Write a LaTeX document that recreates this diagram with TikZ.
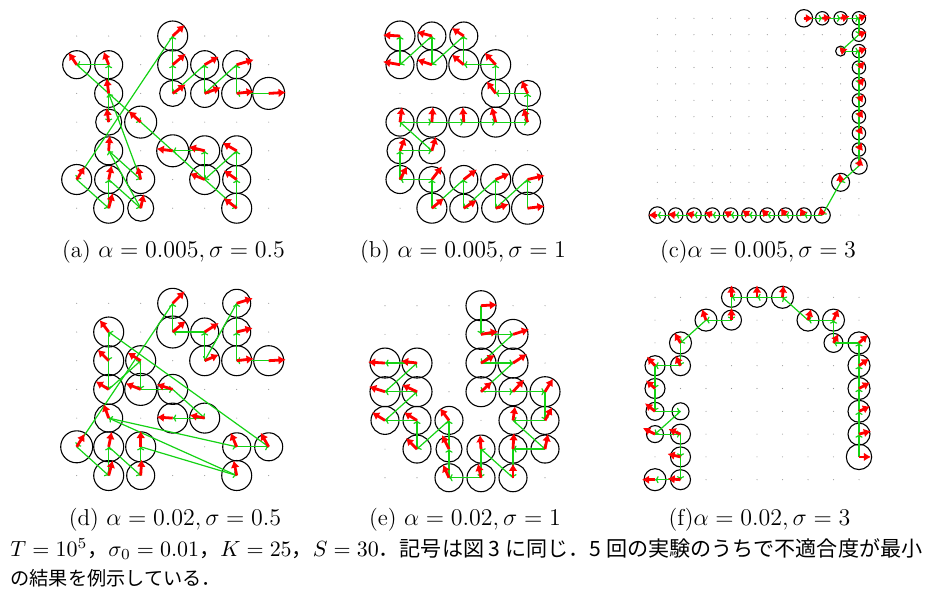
\documentclass[tikz,border=0pt]{standalone}
\usepackage{fontspec}
\newfontfamily\cjk{Noto Sans CJK JP}
\usetikzlibrary{arrows.meta}
\definecolor{grn}{RGB}{20,210,20}
\definecolor{dotc}{RGB}{150,150,150}
\tikzset{
  ring/.style={draw=black,line width=0.55pt},
  link/.style={draw=grn,line width=0.6pt,-{To[length=1.8pt,width=3.6pt]}},
  dirarrow/.style={draw=red,line width=1.4pt,-{Latex[length=3.6pt,width=4.4pt]}},
  capt/.style={inner sep=0pt,font=\fontsize{11.5}{14}\selectfont},
  bodytext/.style={inner sep=0pt,anchor=west,font=\fontsize{9.6}{12}\selectfont},
}
% #1 name, #2 X0, #3 Y0, #4 DX, #5 DY, #6 last col, #7 last row
\newcommand\mkpanel[7]{%
  \foreach \i in {0,...,#6}{\foreach \j in {0,...,#7}{%
    \fill[dotc] ({#2+\i*#4},{#3+\j*#5}) circle[radius=0.55];}}
  \foreach \c/\r/\R/\u/\v in \nodelist{%
    \coordinate (#1-\c-\r) at ({#2+\c*#4},{#3+\r*#5});}
  \foreach \c/\r/\R/\u/\v in \nodelist{%
    \draw[ring] (#1-\c-\r) circle[radius=\R];}
  \foreach \p [count=\k, remember=\p as \q] in \chainlist{%
    \ifnum\k>1 \draw[link] (#1-\q) -- (#1-\p);\fi}
  \foreach \c/\r/\R/\u/\v in \nodelist{%
    \pgfmathtruncatemacro\ok{(abs(\u)+abs(\v))>0 ? 1 : 0}%
    \ifnum\ok=1 \draw[dirarrow] (#1-\c-\r) -- ++(\u,\v);\fi}
}
\begin{document}
\begin{tikzpicture}[x=0.5pt,y=-0.5pt]
\useasboundingbox (0,0) rectangle (926,595);
% ---------- (a)
\def\nodelist{3/0/15/12/-11, 0/1/14/-8/-12, 1/1/14/-5/-13, 3/1/15/13/-11, 4/1/14/14/-8,
 5/1/14/17/-5, 1/2/14/-2/-15, 3/2/13/13/-9, 4/2/14/16/-6, 5/2/15/17/-2, 6/2/16/17/-1,
 1/3/13/-2/-14, 2/3/16/-12/-11, 1/4/14/1/-15, 3/4/16/-16/-2, 4/4/15/-16/-4, 5/4/15/-14/-8,
 0/5/15/8/-13, 1/5/14/3/-14, 2/5/14/-3/-13, 4/5/15/-15/-6, 5/5/14/-13/-9, 1/6/15/4/-15,
 2/6/13/3/-14, 5/6/15/-13/-10}
\def\chainlist{6-2,5-2,5-1,4-2,4-1,3-2,3-1,3-0,0-5,1-6,1-5,2-6,1-4,2-5,1-2,1-3,1-1,0-1,2-3,5-6,5-5,5-4,4-5,4-4,3-4}
\mkpanel{a}{76.7}{36}{32}{28.7}{6}{6}
% ---------- (b)
\def\nodelist{0/0/15/-17/-1, 1/0/14/-15/-4, 2/0/14/-12/-8, 0/1/14/-17/-3, 1/1/15/-15/-5,
 2/1/15/-12/-10, 3/1/15/-11/-12, 3/2/14/-9/-12, 4/2/13/-6/-13, 0/3/14/2/-15, 1/3/15/1/-15,
 2/3/15/-1/-15, 3/3/15/-4/-15, 4/3/13/-4/-14, 0/4/13/5/-13, 1/4/13/4/-14, 0/5/14/7/-13,
 1/5/13/10/-13, 2/5/14/13/-10, 3/5/15/14/-6, 4/5/15/17/-4, 1/6/15/12/-10, 2/6/14/13/-8,
 3/6/14/13/-4, 4/6/16/17/-2}
\def\chainlist{4-6,4-5,3-6,3-5,2-6,2-5,1-6,1-5,0-5,0-4,1-4,0-3,1-3,2-3,3-3,4-3,4-2,3-2,3-1,2-1,2-0,1-1,1-0,0-1,0-0}
\mkpanel{b}{400}{36}{31.9}{28.7}{4}{6}
% ---------- (c)
\def\nodelist{8/0/8.7/9/0, 9/0/6.7/9/-1, 10/0/6.7/9/-2, 11/0/6.7/8/-3, 11/1/6.7/8/-3,
 10/2/5/7/-2, 11/2/6.7/8/-3, 11/3/6.7/6/-6, 11/4/6.7/6/-6, 11/5/6.7/5/-6, 11/6/6.7/4/-7,
 11/7/6.7/3/-7, 11/8/6.7/3/-7, 11/9/8.3/2/-8, 10/10/9/-1/-9, 9/12/8/-2/-8, 8/12/7.3/-4/-7,
 7/12/7.3/-5/-7, 6/12/7.3/-6/-6, 5/12/7.3/-7/-5, 4/12/7.3/-7/-4, 3/12/7.3/-8/-3,
 2/12/7.3/-8/-2, 1/12/7.3/-8/-1, 0/12/8.3/-9/0}
\def\chainlist{8-0,9-0,10-0,11-0,11-1,10-2,11-2,11-3,11-4,11-5,11-6,11-7,11-8,11-9,10-10,9-12,8-12,7-12,6-12,5-12,4-12,3-12,2-12,1-12,0-12}
\mkpanel{c}{657.3}{18.3}{18.33}{16.4}{11}{12}
% ---------- (d)
\def\nodelist{3/0/15/12/-12, 5/0/14/16/-5, 1/1/15/-9/-12, 3/1/16/13/-11, 4/1/14/14/-9,
 5/1/14/16/-4, 1/2/15/-11/-11, 2/2/15/-13/-8, 4/2/15/14/-6, 5/2/15/17/-2, 6/2/15/17/-1,
 1/3/15/-13/-8, 2/3/16/-15/-6, 3/3/15/-16/-5, 1/4/14/-5/-14, 3/4/15/-16/-1, 4/4/15/-15/-3,
 0/5/16/8/-13, 1/5/15/3/-15, 2/5/15/0/-16, 5/5/14/-6/-14, 6/5/14/-8/-14, 1/6/15/4/-15,
 2/6/14/1/-16, 5/6/15/-3/-15}
\def\chainlist{6-2,5-2,5-1,5-0,4-2,4-1,3-1,3-0,0-5,1-6,1-5,2-6,2-5,5-6,1-4,5-5,6-5,1-1,1-2,1-3,2-2,2-3,3-3,4-4,3-4}
\mkpanel{d}{76.7}{303.3}{32}{28.7}{6}{6}
% ---------- (e)
\def\nodelist{3/0/15/16/-1, 3/1/15/17/-3, 4/1/15/16/-5, 0/2/15/-17/-1, 1/2/15/-16/-2,
 3/2/15/14/-8, 4/2/15/14/-9, 0/3/15/-16/-5, 1/3/15/-15/-7, 3/3/15/11/-10, 4/3/14/11/-12,
 5/3/15/8/-13, 0/4/14/-13/-8, 1/4/14/-13/-8, 2/4/14/-9/-12, 4/4/14/2/-14, 5/4/14/7/-13,
 1/5/14/-11/-11, 2/5/13/-7/-14, 3/5/14/-1/-14, 4/5/14/1/-16, 5/5/14/3/-15, 2/6/14/-6/-13,
 3/6/14/-3/-14, 4/6/14/0/-14}
\def\chainlist{3-0,3-1,4-1,3-2,4-2,3-3,4-3,5-3,5-4,4-4,5-5,4-5,4-6,3-5,3-6,2-6,2-5,2-4,1-5,1-4,0-4,1-3,0-3,1-2,0-2}
\mkpanel{e}{385}{305.7}{32}{28.67}{5}{6}
% ---------- (f)
\def\nodelist{3/0/10/0/-12, 4/0/10/0/-12, 5/0/11/1/-12, 2/1/11/-4/-11, 3/1/10/0/-12,
 6/1/11/3/-11, 7/1/11/5/-11, 1/2/11/-6/-10, 7/2/9.5/5/-9, 8/2/11/9/-8, 0/3/10/-8/-9,
 1/3/10/-5/-10, 8/3/11/10/-7, 0/4/10/-9/-8, 8/4/11/11/-6, 0/5/9/-10/-8, 1/5/8.5/0/0,
 8/5/11/11/-5, 0/6/8.5/-12/-6, 1/6/10/-12/-5, 8/6/11/12/-3, 1/7/10/-13/-3, 8/7/12.7/12/0,
 0/8/11/-13/0, 1/8/10/-13/-1}
\def\chainlist{8-7,8-6,8-5,8-4,8-3,8-2,7-2,7-1,6-1,5-0,4-0,3-0,3-1,2-1,1-2,1-3,0-3,0-4,0-5,1-5,0-6,1-6,1-7,1-8,0-8}
\mkpanel{f}{655}{297.3}{25.5}{22.8}{8}{8}
% ---------- captions
\node[capt] (capa) at (173.5,252) {(a) $\alpha=0.005,\sigma=0.5$};
\node[capt] (capb) at (463,252) {(b) $\alpha=0.005,\sigma=1$};
\node[capt] (capc) at (758,252) {(c)$\alpha=0.005,\sigma=3$};
\node[capt] (capd) at (175,520) {(d) $\alpha=0.02,\sigma=0.5$};
\node[capt] (cape) at (465,520) {(e) $\alpha=0.02,\sigma=1$};
\node[capt] (capf) at (759.5,520) {(f)$\alpha=0.02,\sigma=3$};
\node[bodytext] (line1) at (10,549) {\resizebox{456pt}{!}{$T=10^5$\cjk{，}$\sigma_0=0.01$\cjk{，}$K=25$\cjk{，}$S=30$\cjk{．記号は図}\ 3\ \cjk{に同じ．}5\ \cjk{回の実験のうちで不適合度が最小}}};
\node[bodytext] (line2) at (10,578) {\cjk{の結果を例示している．}};
\end{tikzpicture}
\end{document}
